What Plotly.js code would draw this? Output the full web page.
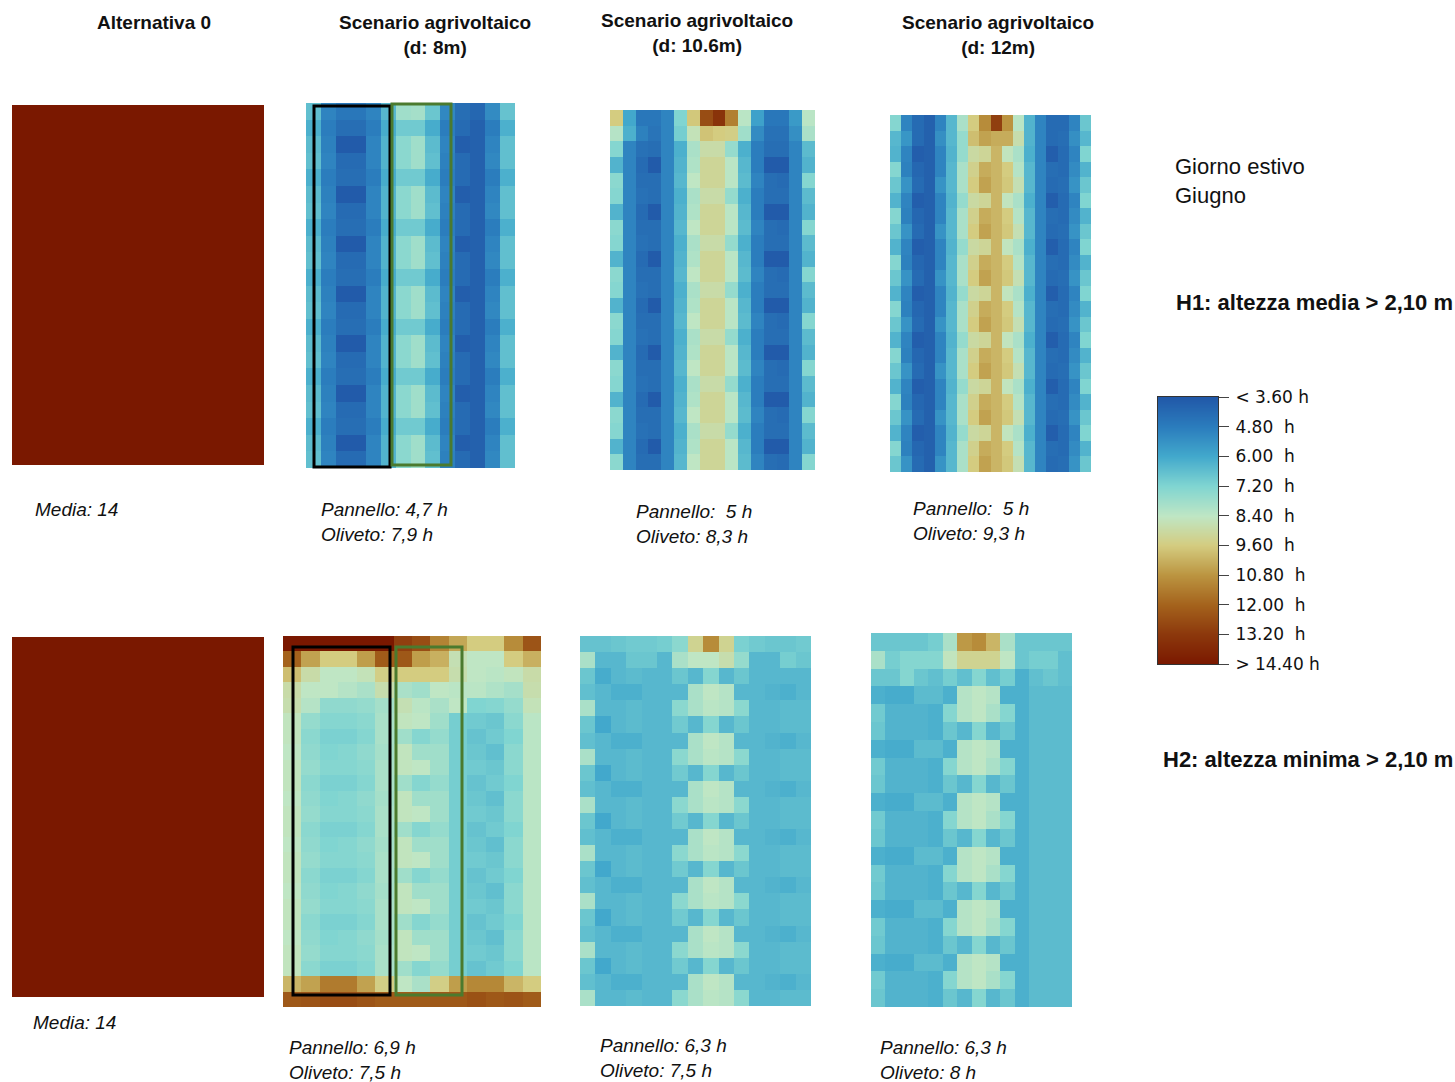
<!DOCTYPE html>
<html>
<head>
<meta charset="utf-8">
<script src="https://cdn.plot.ly/plotly-3.0.1.min.js"></script>
<style>html,body{margin:0;padding:0;background:#fff;}#chart{width:1455px;height:1082px;}</style>
</head>
<body>
<div id="chart"></div>
<script>
// ---------- legend classes ----------
const levels = [3.6, 4.8, 6.0, 7.2, 8.4, 9.6, 10.8, 12.0, 13.2, 14.4];
const levelLabels = ['< 3.60 h', '4.80\u00a0\u00a0h', '6.00\u00a0\u00a0h', '7.20\u00a0\u00a0h', '8.40\u00a0\u00a0h',
  '9.60\u00a0\u00a0h', '10.80\u00a0\u00a0h', '12.00\u00a0\u00a0h', '13.20\u00a0\u00a0h', '> 14.40 h'];

// ---------- column titles and labels ----------
const colTitles = ['Alternativa 0', 'Scenario agrivoltaico<br>(d: 8m)', 'Scenario agrivoltaico<br>(d: 10.6m)', 'Scenario agrivoltaico<br>(d: 12m)'];
const labelsH1 = ['Media: 14', 'Pannello: 4,7 h<br>Oliveto: 7,9 h', 'Pannello:  5 h<br>Oliveto: 8,3 h', 'Pannello:  5 h<br>Oliveto: 9,3 h'];
const labelsH2 = ['Media: 14', 'Pannello: 6,9 h<br>Oliveto: 7,5 h', 'Pannello: 6,3 h<br>Oliveto: 7,5 h', 'Pannello: 6,3 h<br>Oliveto: 8 h'];

// ---------- Alternativa 0 (uniform) ----------
const alt0 = [[14.4]];

// ---------- H1, d = 8 m (14 columns) ----------
const h1d8_top = [6.6, 5.0, 4.6, 4.6, 5.0, 6.4, 7.8, 7.9, 6.8, 5.1, 4.3, 4.1, 5.2, 6.7];
const h1d8_a   = [6.2, 4.8, 4.3, 4.3, 4.8, 6.1, 6.9, 6.9, 6.1, 4.8, 4.2, 3.9, 4.8, 6.2];
const h1d8_b   = [6.5, 4.9, 3.7, 3.7, 5.0, 6.3, 7.4, 7.8, 6.5, 5.0, 3.8, 3.9, 5.0, 6.6];
const h1d8_c   = [6.6, 5.0, 4.2, 4.2, 5.0, 6.3, 7.4, 7.8, 6.6, 4.9, 4.2, 3.9, 5.1, 6.6];
const h1d8 = [h1d8_top,
  h1d8_a, h1d8_b, h1d8_c, h1d8_a, h1d8_b, h1d8_c, h1d8_a, h1d8_b, h1d8_c, h1d8_a, h1d8_b, h1d8_c,
  h1d8_a, h1d8_b, h1d8_c, h1d8_a, h1d8_b, h1d8_c, h1d8_a, h1d8_b, h1d8_c];

// ---------- H1, d = 10.6 m (16 columns) ----------
const h1d10_top = [9.6, 6.0, 4.6, 4.6, 5.0, 7.2, 9.7, 12.6, 13.4, 11.3, 8.3, 5.8, 4.6, 4.6, 5.6, 8.3];
const h1d10_r1  = [8.2, 6.2, 4.9, 4.5, 5.0, 7.0, 8.6, 9.8, 9.6, 9.5, 7.8, 5.2, 4.4, 4.4, 5.3, 8.0];
const h1d10_a   = [7.3, 5.0, 4.4, 4.3, 5.0, 6.2, 8.0, 8.9, 8.9, 7.6, 6.2, 4.8, 4.3, 4.3, 5.0, 6.5];
const h1d10_b   = [6.3, 5.0, 4.2, 3.7, 5.0, 6.3, 8.1, 9.2, 9.2, 8.3, 6.4, 4.8, 3.7, 3.7, 5.0, 6.3];
const h1d10_c   = [7.4, 5.0, 4.3, 4.3, 5.0, 6.4, 8.4, 9.2, 9.2, 8.3, 6.5, 5.0, 4.3, 4.2, 5.0, 7.3];
const h1d10 = [h1d10_top, h1d10_r1,
  h1d10_a, h1d10_b, h1d10_c, h1d10_a, h1d10_b, h1d10_c, h1d10_a, h1d10_b, h1d10_c, h1d10_a, h1d10_b, h1d10_c,
  h1d10_a, h1d10_b, h1d10_c, h1d10_a, h1d10_b, h1d10_c, h1d10_a, h1d10_b, h1d10_c];

// ---------- H1, d = 12 m (18 columns) ----------
const h1d12_top = [7.3, 5.0, 4.2, 3.9, 5.0, 6.4, 8.0, 9.6, 11.0, 13.0, 10.8, 8.3, 6.3, 5.0, 4.2, 4.2, 5.0, 6.8];
const h1d12_r1  = [6.4, 5.5, 4.2, 3.9, 5.3, 6.4, 7.6, 9.9, 10.5, 10.3, 10.3, 8.8, 6.3, 5.0, 4.2, 4.3, 5.3, 6.4];
const h1d12_a   = [6.3, 5.0, 3.8, 3.9, 5.0, 6.3, 7.6, 9.0, 9.2, 10.1, 8.5, 8.0, 6.2, 5.0, 3.8, 4.2, 5.0, 7.2];
const h1d12_b   = [7.3, 4.9, 4.1, 3.9, 5.0, 6.4, 8.0, 9.4, 10.3, 10.1, 9.6, 8.2, 6.4, 5.0, 4.3, 4.2, 5.2, 6.3];
const h1d12_c   = [6.8, 5.4, 4.2, 3.9, 5.4, 6.4, 8.0, 9.6, 10.5, 10.1, 9.7, 8.7, 6.4, 5.0, 4.2, 4.3, 5.4, 6.8];
const h1d12 = [h1d12_top, h1d12_r1,
  h1d12_a, h1d12_b, h1d12_c, h1d12_a, h1d12_b, h1d12_c, h1d12_a, h1d12_b, h1d12_c, h1d12_a, h1d12_b, h1d12_c,
  h1d12_a, h1d12_b, h1d12_c, h1d12_a, h1d12_b, h1d12_c, h1d12_a, h1d12_b, h1d12_c];

// ---------- H2, d = 8 m (14 columns) ----------
const h2d8_r0  = [14.4, 14.4, 14.4, 14.4, 14.4, 14.4, 13.0, 12.6, 11.2, 10.4, 9.6, 9.6, 11.0, 12.4];
const h2d8_r1  = [12.0, 10.5, 9.6, 9.6, 10.6, 12.2, 12.3, 10.6, 10.2, 8.7, 8.4, 8.4, 9.6, 10.2];
const h2d8_r2  = [9.9, 8.9, 8.4, 8.4, 8.6, 9.5, 9.6, 9.6, 9.6, 8.8, 8.4, 8.3, 8.5, 8.9];
const h2d8_r3  = [8.9, 8.4, 8.4, 8.2, 8.0, 8.8, 8.0, 7.8, 8.4, 8.3, 8.3, 8.1, 7.9, 8.8];
const h2d8_r4  = [8.8, 8.2, 7.5, 7.5, 7.6, 7.9, 8.7, 8.3, 8.0, 8.4, 7.2, 7.3, 7.6, 8.6];
const h2d8_a   = [8.5, 7.6, 7.3, 7.3, 7.4, 8.0, 8.5, 8.4, 7.8, 7.0, 6.9, 6.8, 7.4, 8.3];
const h2d8_b   = [8.5, 7.4, 7.1, 7.1, 7.3, 8.0, 7.8, 7.3, 7.6, 7.0, 6.7, 6.9, 7.2, 8.3];
const h2d8_c   = [8.4, 7.5, 7.2, 7.3, 7.5, 7.9, 8.5, 7.8, 7.8, 7.0, 6.8, 6.6, 7.4, 8.3];
const h2d8_r22 = [10.1, 10.5, 11.4, 11.4, 10.5, 9.5, 8.4, 8.0, 9.5, 10.6, 11.1, 11.1, 10.1, 9.6];
const h2d8_r23 = [12.3, 12.4, 12.6, 12.6, 12.4, 12.2, 12.2, 12.2, 12.3, 12.3, 12.5, 12.3, 12.4, 12.2];
const h2d8 = [h2d8_r0, h2d8_r1, h2d8_r2, h2d8_r3, h2d8_r4,
  h2d8_a, h2d8_b, h2d8_c, h2d8_a, h2d8_b, h2d8_c, h2d8_a, h2d8_b, h2d8_c,
  h2d8_a, h2d8_b, h2d8_c, h2d8_a, h2d8_b, h2d8_c, h2d8_a, h2d8_b,
  h2d8_r22, h2d8_r23];

// ---------- H2, d = 10.6 m (15 columns) ----------
const h2d10_r0 = [6.7, 6.7, 6.8, 6.9, 6.9, 7.0, 7.4, 9.3, 11.0, 9.3, 7.1, 6.9, 6.8, 6.8, 6.9];
const h2d10_r1 = [8.0, 6.4, 6.4, 6.8, 6.8, 6.4, 8.0, 8.4, 8.4, 8.8, 7.6, 6.4, 6.4, 7.0, 6.8];
const h2d10_r2 = [6.8, 6.1, 6.4, 6.5, 6.4, 6.4, 6.8, 6.4, 7.3, 6.4, 6.8, 6.4, 6.4, 6.4, 6.4];
const h2d10_a  = [6.6, 6.4, 6.2, 6.2, 6.4, 6.4, 6.4, 8.0, 8.4, 8.2, 6.4, 6.4, 6.3, 6.2, 6.4];
const h2d10_b  = [8.0, 6.4, 6.4, 6.5, 6.4, 6.4, 7.4, 8.0, 8.3, 8.2, 7.4, 6.4, 6.4, 6.5, 6.5];
const h2d10_c  = [6.8, 6.0, 6.4, 6.5, 6.4, 6.4, 6.9, 6.4, 7.3, 6.4, 6.8, 6.4, 6.4, 6.5, 6.5];
const h2d10 = [h2d10_r0, h2d10_r1, h2d10_r2,
  h2d10_a, h2d10_b, h2d10_c, h2d10_a, h2d10_b, h2d10_c, h2d10_a, h2d10_b, h2d10_c,
  h2d10_a, h2d10_b, h2d10_c, h2d10_a, h2d10_b, h2d10_c, h2d10_a, h2d10_b, h2d10_c,
  h2d10_a, h2d10_b];

// ---------- H2, d = 12 m (14 columns) ----------
const h2d12_r0 = [6.8, 6.8, 6.8, 6.8, 7.0, 8.0, 10.7, 11.0, 10.1, 8.0, 6.8, 6.8, 6.8, 6.8];
const h2d12_r1 = [8.0, 7.0, 7.3, 7.3, 7.3, 8.5, 9.3, 9.3, 9.3, 8.4, 6.8, 7.0, 7.0, 6.6];
const h2d12_r2 = [6.8, 6.8, 7.3, 6.8, 6.6, 7.0, 6.6, 7.3, 6.6, 7.0, 6.2, 6.6, 6.8, 6.6];
const h2d12_a  = [6.2, 6.1, 6.1, 6.5, 6.5, 6.2, 8.2, 8.4, 8.2, 6.2, 6.2, 6.5, 6.5, 6.5];
const h2d12_b  = [6.9, 6.3, 6.3, 6.3, 6.2, 7.3, 8.2, 8.4, 8.0, 7.3, 6.2, 6.5, 6.5, 6.5];
const h2d12_c  = [6.8, 6.3, 6.3, 6.3, 6.2, 6.8, 6.4, 7.3, 6.4, 6.8, 6.2, 6.5, 6.5, 6.5];
const h2d12 = [h2d12_r0, h2d12_r1, h2d12_r2,
  h2d12_a, h2d12_b, h2d12_c, h2d12_a, h2d12_b, h2d12_c, h2d12_a, h2d12_b, h2d12_c,
  h2d12_a, h2d12_b, h2d12_c, h2d12_a, h2d12_b, h2d12_c, h2d12_a, h2d12_b, h2d12_c];

// ---------- styling / layout ----------
const W = 1455, H = 1082;
const colorscale = [[0, '#2158a8'], [0.111, '#2b7dbd'], [0.222, '#42a8cc'], [0.333, '#80d5d1'],
  [0.444, '#bfe6c4'], [0.556, '#d4cc80'], [0.667, '#bb9440'], [0.778, '#a4621c'],
  [0.889, '#8c380c'], [1, '#7a1800']];

const panels = [
  {z: alt0,  px: [12, 264],  py: [105, 465]},
  {z: h1d8,  px: [306, 515], py: [103, 468]},
  {z: h1d10, px: [610, 815], py: [110, 470]},
  {z: h1d12, px: [890, 1091], py: [115, 472]},
  {z: alt0,  px: [12, 264],  py: [637, 997]},
  {z: h2d8,  px: [283, 541], py: [636, 1007]},
  {z: h2d10, px: [580, 811], py: [636, 1006]},
  {z: h2d12, px: [871, 1072], py: [633, 1007]}
];

const fx = p => p / W;
const fy = p => 1 - p / H;

const data = [];
const layout = {
  width: W, height: H, autosize: false,
  margin: {l: 0, r: 0, t: 0, b: 0},
  paper_bgcolor: '#ffffff', plot_bgcolor: '#ffffff',
  showlegend: false,
  annotations: [], shapes: []
};

panels.forEach((p, i) => {
  const n = i + 1;
  const nr = p.z.length, nc = p.z[0].length;
  data.push({
    type: 'heatmap', z: p.z, xaxis: 'x' + n, yaxis: 'y' + n,
    colorscale: colorscale, zmin: levels[0], zmax: levels[levels.length - 1],
    showscale: false, zsmooth: false, hoverinfo: 'z'
  });
  layout['xaxis' + n] = {domain: [fx(p.px[0]), fx(p.px[1])], range: [-0.5, nc - 0.5], visible: false,
    fixedrange: true, anchor: 'y' + n};
  layout['yaxis' + n] = {domain: [fy(p.py[1]), fy(p.py[0])], range: [nr - 0.5, -0.5], visible: false,
    fixedrange: true, anchor: 'x' + n};
});

// legend bar (blue on top)
const ci = panels.length + 1;
data.push({
  type: 'heatmap', x: [0, 1], y: levels, z: levels.map(v => [v, v]),
  xaxis: 'x' + ci, yaxis: 'y' + ci, colorscale: colorscale,
  zmin: levels[0], zmax: levels[levels.length - 1], showscale: false, zsmooth: 'best', hoverinfo: 'z'
});
layout['xaxis' + ci] = {domain: [fx(1158), fx(1218)], range: [0, 1], showticklabels: false, ticks: '',
  showgrid: false, zeroline: false, showline: true, mirror: true, linecolor: '#333', linewidth: 1,
  fixedrange: true, anchor: 'y' + ci};
layout['yaxis' + ci] = {domain: [fy(664), fy(397)], range: [levels[levels.length - 1], levels[0]],
  side: 'right', tickmode: 'array', tickvals: levels, ticktext: levelLabels,
  ticks: 'outside', ticklen: 10, tickwidth: 1, tickcolor: '#444', ticklabelstandoff: 3,
  tickfont: {family: 'DejaVu Sans', size: 17, color: '#111'},
  showgrid: false, zeroline: false, showline: true, mirror: true, linecolor: '#333', linewidth: 1,
  fixedrange: true, anchor: 'x' + ci};

// annotations
const txtFont = {family: 'Liberation Sans, Arial, sans-serif', color: '#111'};
function ann(text, x, y, size, xanchor) {
  layout.annotations.push({text: text, xref: 'paper', yref: 'paper', x: fx(x), y: fy(y),
    xanchor: xanchor, yanchor: 'middle', align: xanchor === 'center' ? 'center' : 'left',
    showarrow: false, font: Object.assign({size: size}, txtFont)});
}
const titlePos = [[154, 22], [435, 35], [697, 33], [998, 35]];
colTitles.forEach((t, i) => ann('<b>' + t + '</b>', titlePos[i][0], titlePos[i][1], 19, 'center'));
const lab1Pos = [[33, 510], [319, 522], [634, 524], [911, 521]];
labelsH1.forEach((t, i) => ann('<i>' + t.replace(/  /g, ' \u00a0') + '</i>', lab1Pos[i][0], lab1Pos[i][1], 19, 'left'));
const lab2Pos = [[31, 1022], [287, 1060], [598, 1058], [878, 1060]];
labelsH2.forEach((t, i) => ann('<i>' + t + '</i>', lab2Pos[i][0], lab2Pos[i][1], 19, 'left'));
ann('Giorno estivo<br>Giugno', 1173, 181, 22, 'left');
ann('<b>H1: altezza media > 2,10 m</b>', 1174, 302, 22, 'left');
ann('<b>H2: altezza minima > 2,10 m</b>', 1161, 759, 22, 'left');

// highlight boxes (pannello / oliveto)
function box(x0, x1, y0, y1, color) {
  layout.shapes.push({type: 'rect', xref: 'paper', yref: 'paper', x0: fx(x0), x1: fx(x1), y0: fy(y1), y1: fy(y0),
    line: {color: color, width: 3}, fillcolor: 'rgba(0,0,0,0)'});
}
box(314, 390, 106, 467, '#000000');
box(392, 451, 104, 465, '#4b7a2e');
box(293, 390, 647, 995, '#000000');
box(396, 462, 647, 995, '#4b7a2e');

Plotly.newPlot('chart', data, layout, {displayModeBar: false, staticPlot: true});
</script>
</body>
</html>
